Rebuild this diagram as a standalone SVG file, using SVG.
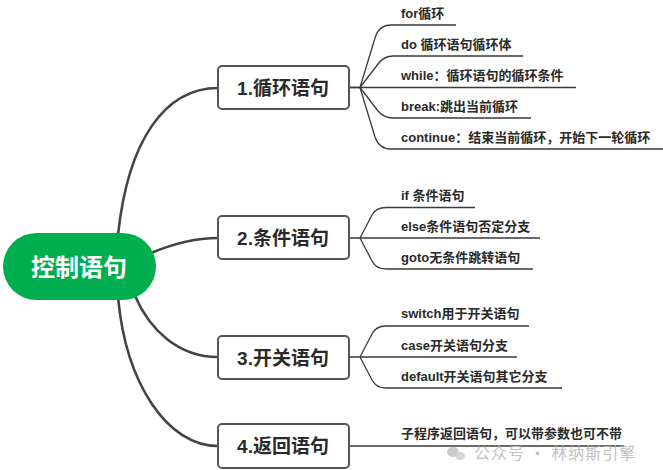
<svg xmlns="http://www.w3.org/2000/svg" width="663" height="470" viewBox="0 0 663 470">
<style>
.main{fill:none;stroke:#444;stroke-width:2.6;stroke-linecap:round}
.sub{fill:none;stroke:#3a3a3a;stroke-width:1.3}
.box{fill:#fff;stroke:#555;stroke-width:2}
.nt{font-family:"Liberation Sans","Noto Sans CJK SC",sans-serif;font-weight:bold;font-size:19px;fill:#2a2a2a;text-anchor:middle}
.ct{font-family:"Liberation Sans","Noto Sans CJK SC",sans-serif;font-weight:bold;font-size:13px;fill:#2a2a2a}
.wm{font-family:"Noto Sans CJK SC",sans-serif;font-size:16px;fill:#b8b8b8}
</style>
<rect width="663" height="470" fill="#fff"/>
<g id="connectors">
<path class="main" d="M118,235 C128,140 165,88 218,88"/>
<path class="main" d="M151,253 C175,243 195,238 218,238"/>
<path class="main" d="M135,296 C150,330 178,357 218,357"/>
<path class="main" d="M118,297 C126,385 168,446 218,446"/>
<path class="sub" d="M349,87.5 H360 M360,87.5 L375,38 Q379,25 391,25 H456"/>
<path class="sub" d="M360,87.5 L378,64 Q384,56 393,56 H523"/>
<path class="sub" d="M349,87.5 H576"/>
<path class="sub" d="M360,87.5 L378,111 Q384,118 393,118 H531"/>
<path class="sub" d="M360,87.5 L375,137 Q379,149 391,149 H663"/>
<path class="sub" d="M360,238 L372,215 Q376,207.5 386,207.5 H475"/>
<path class="sub" d="M349,238 H540"/>
<path class="sub" d="M360,238 L372,261 Q376,269 386,269 H533"/>
<path class="sub" d="M360,357 L372,334 Q376,326 386,326 H529"/>
<path class="sub" d="M349,357 H517"/>
<path class="sub" d="M360,357 L372,380 Q376,388 386,388 H562"/>
<path class="sub" d="M349,446 H624"/>
</g>
<g id="root">
<rect x="3" y="233" width="153" height="67" rx="33.5" fill="#00AE50"/>
<text x="79" y="276" font-family="Liberation Sans,'Noto Sans CJK SC',sans-serif" font-weight="bold" font-size="24" fill="#fff" text-anchor="middle">控制语句</text>
</g>
<g id="n1">
<rect class="box" x="218" y="66" width="131" height="43" rx="4"/>
<text class="nt" x="283" y="94.5">1.循环语句</text>
</g>
<g id="n2">
<rect class="box" x="218" y="216" width="131" height="43" rx="4"/>
<text class="nt" x="283" y="245">2.条件语句</text>
</g>
<g id="n3">
<rect class="box" x="218" y="336" width="131" height="43" rx="4"/>
<text class="nt" x="283" y="364.5">3.开关语句</text>
</g>
<g id="n4">
<rect class="box" x="218" y="424" width="131" height="44" rx="4"/>
<text class="nt" x="283" y="453">4.返回语句</text>
</g>
<g id="c1">
<text class="ct" x="401" y="18">for循环</text>
<text class="ct" x="401" y="49">do 循环语句循环体</text>
<text class="ct" x="401" y="80">while：循环语句的循环条件</text>
<text class="ct" x="401" y="111">break:跳出当前循环</text>
<text class="ct" x="401" y="142">continue：结束当前循环，开始下一轮循环</text>
</g>
<g id="c2">
<text class="ct" x="401" y="200">if 条件语句</text>
<text class="ct" x="401" y="231">else条件语句否定分支</text>
<text class="ct" x="401" y="262">goto无条件跳转语句</text>
</g>
<g id="c3">
<text class="ct" x="401" y="318">switch用于开关语句</text>
<text class="ct" x="401" y="350">case开关语句分支</text>
<text class="ct" x="401" y="381">default开关语句其它分支</text>
</g>
<g id="c4">
<text class="ct" x="401" y="438">子程序返回语句，可以带参数也可不带</text>
</g>
<g id="watermark" opacity="0.85">
<ellipse cx="453" cy="452" rx="6" ry="5" fill="#c4c4c4"/>
<ellipse cx="460" cy="456" rx="5" ry="4" fill="#d0d0d0"/>
<text class="wm" x="474" y="459" letter-spacing="1">公众号 · 林纳斯引擎</text>
</g>
</svg>
